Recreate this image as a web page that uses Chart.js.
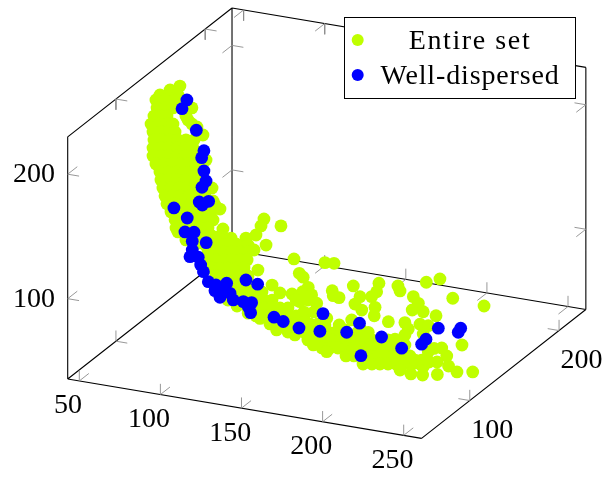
<!DOCTYPE html>
<html>
<head>
<meta charset="utf-8">
<style>
  html, body { margin: 0; padding: 0; background: #fff; }
  canvas { display: block; }
</style>
<script src="https://cdn.jsdelivr.net/npm/chart.js@4"></script>
</head>
<body>
<canvas id="myChart" width="606" height="477"></canvas>
<script>
var xLimits = [42.85, 261];
var yLimits = [46, 230];
var zLimits = [35.5, 230];
var xTicks = [50, 100, 150, 200, 250];
var yTicks = [100, 200];
var zTicks = [100, 200];
var seriesLabels = ['Entire set', 'Well-dispersed'];

// a single view cannot give the depth of a point, so every point sits at one depth
var depthY = 120;

var entireX = [
  71.3, 65.2, 59.0, 65.2, 70.1, 56.5, 62.1, 68.3,
  57.2, 62.1, 67.0, 73.8, 78.7, 55.3, 60.2, 63.3, 75.0,
  53.5, 58.4, 63.3, 67.0, 76.3, 78.7, 81.8, 85.5,
  54.7, 59.6, 64.5, 68.3, 55.3, 60.2, 65.2, 70.1, 75.0, 80.0,
  54.7, 59.6, 64.5, 69.5, 74.4, 79.3, 54.7, 59.6, 64.5, 69.5, 74.4, 79.3, 87.4,
  56.5, 61.5, 66.4, 71.3, 76.3, 81.2, 59.0, 63.9, 68.9, 73.8, 78.7, 83.7,
  59.6, 64.5, 69.5, 74.4, 79.3, 84.3, 60.8, 65.8, 70.7, 75.6, 80.6, 85.5, 91.1,
  62.1, 67.0, 72.0, 76.9, 81.8, 86.7, 91.7,
  63.3, 68.3, 73.2, 78.1, 83.0, 88.0, 92.9,
  65.8, 70.7, 75.6, 80.6, 85.5, 90.4, 96.0,
  68.3, 73.2, 78.1, 83.0, 88.0, 91.7, 68.9, 73.8, 78.7, 83.7, 88.6, 97.8,
  70.1, 76.3, 81.2, 86.1, 91.1, 96.0, 102.8, 112.0,
  123.1, 121.3, 133.6, 118.2, 124.4, 113.3, 97.2,
  75.0, 81.2, 86.1, 91.1, 96.0, 100.9, 105.9,
  88.6, 93.5, 98.5, 103.4, 108.3, 113.3, 117.0,
  88.6, 93.5, 98.5, 103.4, 108.3, 112.7,
  91.1, 96.0, 100.9, 105.9, 110.8, 119.4,
  93.5, 98.5, 103.4, 108.3, 113.3,
  105.2, 110.2, 114.5, 128.1,
  107.1, 112.0, 117.0, 121.9, 133.0, 140.4,
  108.3, 113.3, 118.2, 123.1, 128.1,
  113.3, 118.2, 123.1, 128.1, 133.0, 137.9, 106.5,
  118.2, 123.1, 128.1, 133.0, 137.9, 142.9, 147.8,
  126.8, 131.7, 136.7, 141.6, 146.5, 151.5, 156.4,
  137.9, 142.9, 147.8, 152.7, 157.6, 162.6, 167.5,
  150.2, 155.2, 160.1, 165.0, 170.0, 174.9, 179.8, 184.8, 189.7, 194.6, 199.6,
  158.9, 163.8, 168.7, 173.7, 178.6, 183.5, 188.5, 193.4, 198.3, 203.3, 208.2,
  173.7, 178.6, 183.5, 188.5, 193.4, 198.3, 203.3, 208.2, 213.1, 220.3, 161.8,
  184.2, 189.7, 194.6, 199.6, 204.5, 209.4, 214.4, 219.3,
  207.0, 213.7, 220.9, 230.0, 242.1, 251.8, 236.9, 235.8, 232.7, 228.0, 224.4, 221.3, 224.8, 229.8, 245.2,
  141.6, 160.7, 166.3, 144.9, 147.3, 150.4, 147.0, 152.5, 145.3, 155.6, 142.9, 150.2, 147.8, 153.9,
  165.2, 165.8, 169.4, 178.2, 182.3, 179.2, 183.4, 194.0, 192.6, 189.5, 191.6, 191.1, 199.8,
  177.2, 169.5, 187.4, 180.3, 161.8, 160.7, 148.4, 173.1, 182.3,
  205.7, 207.0, 223.2, 231.6, 239.5, 258.8, 215.2, 218.3, 214.5, 221.3, 229.2,
  210.0, 212.1, 219.3, 224.4, 221.3, 203.9, 210.0, 210.0, 216.2,
  113.4, 120.7, 130.9, 142.2, 153.5, 99.1, 100.9
];
var entireZ = [
  235.4, 230.9, 225.6, 226.9, 228.0, 221.0, 222.2, 223.5,
  214.7, 215.8, 216.9, 218.4, 219.5, 207.8, 208.9, 209.6, 212.2,
  201.0, 202.1, 203.2, 204.0, 209.2, 206.6, 204.8, 199.2,
  194.8, 196.0, 197.1, 197.9, 188.6, 189.7, 190.8, 191.9, 193.0, 194.0,
  182.0, 183.1, 184.2, 185.3, 186.3, 187.4, 175.6, 176.7, 177.8, 178.9, 179.9, 181.0, 179.5,
  169.6, 170.7, 171.8, 172.8, 173.9, 175.0, 163.7, 164.7, 165.8, 166.9, 168.0, 169.0,
  157.4, 158.6, 159.7, 160.7, 161.8, 162.8, 151.3, 152.4, 153.5, 154.5, 155.6, 156.6, 157.9,
  145.2, 146.4, 147.3, 148.4, 149.4, 150.5, 147.6,
  139.2, 140.1, 141.0, 142.1, 143.2, 144.3, 144.6,
  133.0, 134.1, 135.1, 136.2, 137.3, 138.3, 142.0,
  127.3, 128.3, 129.4, 130.5, 131.5, 132.3, 120.9, 122.0, 123.1, 124.1, 125.2, 126.4,
  118.0, 116.0, 117.1, 118.2, 119.3, 120.3, 120.2, 122.2,
  140.0, 134.0, 136.7, 126.0, 119.3, 116.9, 117.4,
  112.6, 110.7, 111.8, 112.9, 113.9, 115.0, 116.1,
  105.9, 107.0, 108.1, 109.2, 110.2, 111.3, 113.7,
  99.5, 100.6, 101.7, 102.8, 103.8, 104.8,
  93.6, 94.6, 95.7, 96.8, 97.9, 98.1,
  87.7, 88.8, 89.9, 90.9, 92.0,
  83.9, 84.9, 85.9, 88.0,
  77.9, 78.9, 80.0, 81.1, 82.7, 83.5,
  71.6, 72.7, 73.8, 74.9, 75.9,
  66.3, 67.4, 68.5, 69.5, 70.6, 71.7, 66.4,
  61.0, 62.1, 63.1, 64.2, 65.3, 66.4, 67.4,
  56.5, 57.5, 58.6, 59.7, 60.8, 61.8, 62.9,
  52.4, 53.5, 54.5, 55.6, 56.7, 57.8, 58.9,
  48.7, 49.8, 50.8, 51.9, 53.0, 54.1, 55.2, 56.2, 57.3, 58.4, 59.5,
  44.2, 45.2, 46.3, 47.4, 48.5, 49.6, 50.6, 51.7, 52.8, 53.9, 55.0,
  41.0, 42.1, 43.2, 44.2, 45.3, 46.4, 47.5, 48.6, 49.6, 47.9, 41.8,
  36.8, 38.0, 39.1, 40.2, 41.2, 42.3, 43.4, 44.5,
  37.0, 35.3, 36.0, 38.4, 43.1, 45.2, 46.7, 54.6, 60.3, 58.9, 55.3, 42.8, 47.3, 48.4, 65.4,
  111.9, 113.1, 113.8, 101.1, 98.5, 91.0, 86.8, 85.4, 78.4, 79.4, 79.2, 80.8, 70.6, 72.0,
  91.5, 87.7, 86.9, 98.2, 90.5, 83.9, 80.0, 103.9, 96.7, 92.1, 84.0, 77.1, 74.2,
  70.7, 65.0, 63.0, 60.6, 68.6, 63.1, 63.0, 61.7, 65.4,
  104.2, 100.5, 111.0, 115.5, 101.7, 99.7, 97.7, 93.0, 86.8, 86.9, 85.4,
  75.7, 71.1, 76.4, 76.4, 69.0, 61.0, 65.8, 57.8, 47.0,
  62.2, 59.6, 52.6, 51.0, 45.4, 72.1, 70.0
];

var wellX = [
  75.6, 72.6, 81.4, 86.1, 84.7, 86.1, 87.4, 84.9, 83.2, 85.1, 89.0,
  67.6, 75.8, 74.4, 80.0, 78.9, 87.5, 78.9, 77.5, 82.6, 84.1, 85.8,
  88.8, 93.5, 100.1, 92.9, 96.0, 99.1, 102.2, 104.2, 110.4, 115.5, 113.4, 114.9,
  112.0, 119.2, 129.3, 135.0, 144.7, 157.6, 159.5, 174.1, 182.0, 182.9,
  195.6, 208.0, 223.0, 220.3, 230.6, 244.4, 242.9
];
var wellZ = [
  225.2, 217.5, 202.1, 186.7, 180.8, 170.4, 162.7, 157.1, 144.9, 142.9, 146.7,
  136.7, 130.4, 118.9, 119.9, 112.4, 113.2, 105.4, 99.7, 100.4, 94.5, 89.5,
  82.1, 80.5, 83.3, 75.8, 71.1, 77.7, 75.7, 70.8, 70.8, 71.1, 67.4, 62.9,
  88.5, 86.7, 62.4, 60.2, 57.1, 57.3, 71.9, 60.1, 69.1, 43.2,
  61.0, 54.7, 65.2, 60.6, 75.7, 78.7, 75.1
];

// 3d view of the box, flattened on to the plane of the page
function project(x, y, z) {
  return {
    x: 67.7 + 1.622 * (x - xLimits[0]) + 0.893 * (y - yLimits[0]),
    y: 379 + 0.272 * (x - xLimits[0]) - 0.7 * (y - yLimits[0]) - 1.245 * (z - zLimits[0])
  };
}

var gap = { x: NaN, y: NaN };

function edge(a, b) {
  return [project(a[0], a[1], a[2]), project(b[0], b[1], b[2]), gap];
}

function makeFrame() {
  var x0 = xLimits[0], x1 = xLimits[1];
  var y0 = yLimits[0], y1 = yLimits[1];
  var z0 = zLimits[0], z1 = zLimits[1];
  return [].concat(
    edge([x0, y0, z0], [x1, y0, z0]),
    edge([x1, y0, z0], [x1, y1, z0]),
    edge([x0, y0, z0], [x0, y1, z0]),
    edge([x0, y1, z0], [x1, y1, z0]),
    edge([x0, y0, z0], [x0, y0, z1]),
    edge([x0, y1, z0], [x0, y1, z1]),
    edge([x1, y1, z0], [x1, y1, z1]),
    edge([x0, y0, z1], [x0, y1, z1]),
    edge([x0, y1, z1], [x1, y1, z1])
  );
}

function tickPair(p, d1, d2) {
  return [].concat(
    edge(p, [p[0] + d1[0], p[1] + d1[1], p[2] + d1[2]]),
    edge(p, [p[0] + d2[0], p[1] + d2[1], p[2] + d2[2]])
  );
}

function makeTicks() {
  var x0 = xLimits[0], x1 = xLimits[1];
  var y0 = yLimits[0], y1 = yLimits[1];
  var z0 = zLimits[0], z1 = zLimits[1];
  var dx = 7, dy = 10.7, dz = 8.6;
  var out = [];
  xTicks.forEach(function(t) {
    out = out.concat(tickPair([t, y0, z0], [0, 0, dz], [0, dy, 0]));
    out = out.concat(tickPair([t, y1, z0], [0, 0, dz], [0, -dy, 0]));
    out = out.concat(tickPair([t, y1, z1], [0, 0, -dz], [0, -dy, 0]));
  });
  yTicks.forEach(function(t) {
    out = out.concat(tickPair([x1, t, z0], [-dx, 0, 0], [0, 0, dz]));
    out = out.concat(tickPair([x0, t, z0], [dx, 0, 0], [0, 0, dz]));
    out = out.concat(tickPair([x0, t, z1], [dx, 0, 0], [0, 0, -dz]));
  });
  zTicks.forEach(function(t) {
    out = out.concat(tickPair([x0, y0, t], [dx, 0, 0], [0, dy, 0]));
    out = out.concat(tickPair([x0, y1, t], [dx, 0, 0], [0, -dy, 0]));
    out = out.concat(tickPair([x1, y1, t], [-dx, 0, 0], [0, -dy, 0]));
  });
  return out;
}

function makePoints(xs, zs) {
  var out = [];
  for (var i = 0; i < xs.length; i++) {
    out.push(project(xs[i], depthY, zs[i]));
  }
  return out;
}

var labelFont = '28px "Liberation Serif", serif';

var axisLabels = {
  id: 'axisLabels',
  afterDraw: function(chart) {
    var ctx = chart.ctx;
    var sx = chart.scales.x, sy = chart.scales.y;
    ctx.save();
    ctx.font = labelFont;
    ctx.fillStyle = '#000';
    ctx.textAlign = 'center';
    ctx.textBaseline = 'alphabetic';
    function put(text, p, ox, oy) {
      ctx.fillText(text, sx.getPixelForValue(p.x) + ox, sy.getPixelForValue(p.y) + oy);
    }
    xTicks.forEach(function(t) {
      put(String(t), project(t, yLimits[0], zLimits[0]), -11.3, 32.5);
    });
    yTicks.forEach(function(t) {
      put(String(t), project(xLimits[1], t, zLimits[0]), 22.5, 37);
    });
    zTicks.forEach(function(t) {
      put(String(t), project(xLimits[0], yLimits[0], t), -33.7, 8);
    });
    ctx.restore();
  }
};

var legendBox = {
  id: 'legendBox',
  afterDraw: function(chart) {
    var ctx = chart.ctx;
    var rowY = [40, 75];
    var spacing = ['1.6px', '0.85px'];
    ctx.save();
    ctx.fillStyle = '#fff';
    ctx.strokeStyle = '#000';
    ctx.lineWidth = 1;
    ctx.fillRect(344.5, 17.5, 231, 81);
    ctx.strokeRect(344.5, 17.5, 231, 81);
    ctx.font = labelFont;
    ctx.textAlign = 'center';
    ctx.textBaseline = 'alphabetic';
    for (var i = 0; i < 2; i++) {
      var ds = chart.data.datasets[1 - i];
      ctx.fillStyle = ds.backgroundColor;
      ctx.beginPath();
      ctx.arc(357.7, rowY[i], 6, 0, Math.PI * 2);
      ctx.fill();
      ctx.fillStyle = '#000';
      ctx.letterSpacing = spacing[i];
      ctx.fillText(ds.label, 470, rowY[i] + 8.5);
    }
    ctx.restore();
  }
};

new Chart(document.getElementById('myChart'), {
  type: 'scatter',
  data: {
    datasets: [
      {
        label: seriesLabels[1],
        data: makePoints(wellX, wellZ),
        backgroundColor: '#0000ff',
        pointRadius: 6.4,
        pointBorderWidth: 0,
        order: 0
      },
      {
        label: seriesLabels[0],
        data: makePoints(entireX, entireZ),
        backgroundColor: '#bfff00',
        pointRadius: 6.4,
        pointBorderWidth: 0,
        order: 1
      },
      {
        data: makeTicks(),
        showLine: true,
        spanGaps: false,
        borderColor: '#8c8c8c',
        borderWidth: 0.9,
        pointRadius: 0,
        order: 2
      },
      {
        data: makeFrame(),
        showLine: true,
        spanGaps: false,
        borderColor: '#000',
        borderWidth: 1.1,
        pointRadius: 0,
        order: 3
      }
    ]
  },
  options: {
    responsive: false,
    animation: false,
    layout: { padding: 0, autoPadding: false },
    plugins: { legend: { display: false }, tooltip: { enabled: false } },
    scales: {
      x: { type: 'linear', display: false, min: 0, max: 606 },
      y: { type: 'linear', display: false, min: 0, max: 477, reverse: true }
    }
  },
  plugins: [axisLabels, legendBox]
});
</script>
</body>
</html>
